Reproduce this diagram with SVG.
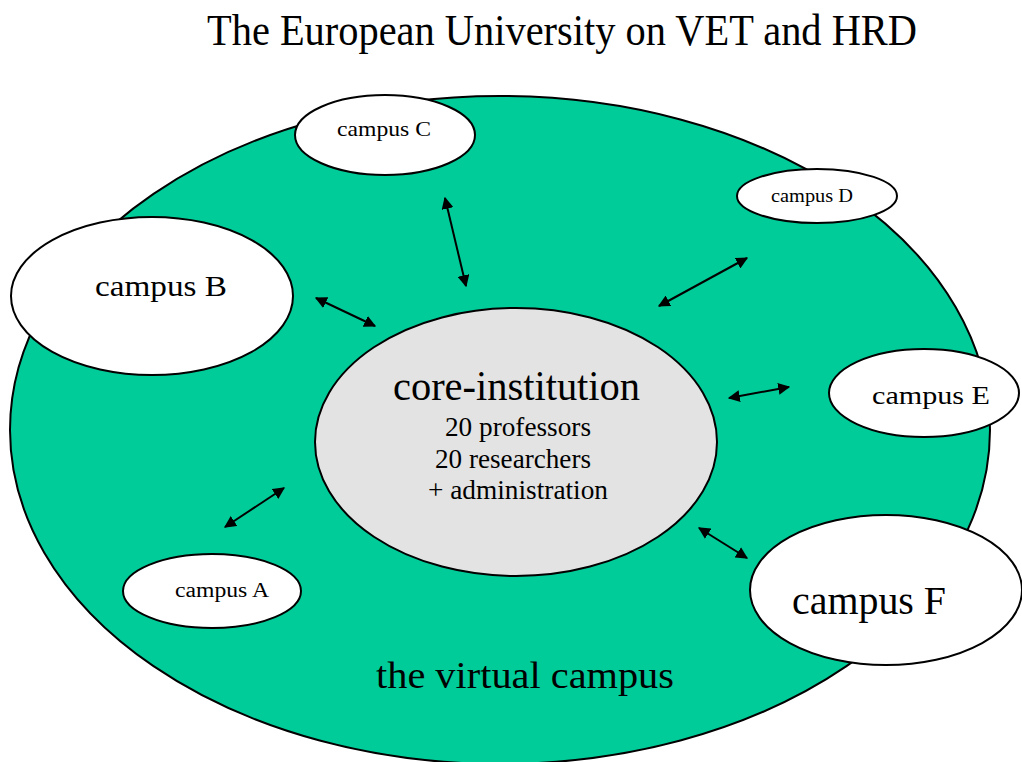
<svg xmlns="http://www.w3.org/2000/svg" width="1022" height="762" viewBox="0 0 1022 762">
<style>
.e{stroke:#000;stroke-width:2}
.w{fill:#fff}
.t{font-family:"Liberation Serif",serif;fill:#000}
.a{stroke:#000;stroke-width:2;fill:none;marker-start:url(#h);marker-end:url(#h)}
</style>
<defs>
<marker id="h" viewBox="0 0 10 10" refX="9" refY="5" markerWidth="6" markerHeight="6" markerUnits="strokeWidth" orient="auto-start-reverse">
<path d="M0,0L10,5L0,10z" fill="#000"/>
</marker>
</defs>
<rect width="1022" height="762" fill="#fff"/>
<text class="t" x="207" y="45" font-size="44" textLength="710" lengthAdjust="spacingAndGlyphs">The European University on VET and HRD</text>
<g id="virtual"><ellipse class="e" cx="500" cy="430" rx="490" ry="334" fill="#00CC99"/>
<text class="t" x="376" y="688" font-size="38" textLength="298" lengthAdjust="spacingAndGlyphs">the virtual campus</text></g>
<g id="core"><ellipse class="e" cx="516" cy="442" rx="201" ry="134" fill="#E3E3E3"/>
<text class="t" x="393" y="400" font-size="42" textLength="247" lengthAdjust="spacingAndGlyphs">core-institution</text>
<text class="t" x="445" y="436" font-size="27" textLength="146" lengthAdjust="spacingAndGlyphs">20 professors</text>
<text class="t" x="435" y="468" font-size="27" textLength="156" lengthAdjust="spacingAndGlyphs">20 researchers</text>
<text class="t" x="428" y="499" font-size="27" textLength="180" lengthAdjust="spacingAndGlyphs">+ administration</text></g>
<g id="campusA"><ellipse class="e w" cx="212" cy="591" rx="89" ry="37"/><text class="t" x="175" y="597" font-size="20" textLength="94" lengthAdjust="spacingAndGlyphs">campus A</text></g>
<g id="campusB"><ellipse class="e w" cx="152" cy="296" rx="141" ry="79"/><text class="t" x="95" y="296" font-size="30" textLength="132" lengthAdjust="spacingAndGlyphs">campus B</text></g>
<g id="campusC"><ellipse class="e w" cx="385" cy="135" rx="90" ry="40"/><text class="t" x="337" y="136" font-size="22" textLength="94" lengthAdjust="spacingAndGlyphs">campus C</text></g>
<g id="campusD"><ellipse class="e w" cx="817" cy="196" rx="80" ry="27"/><text class="t" x="771" y="202" font-size="18" textLength="82" lengthAdjust="spacingAndGlyphs">campus D</text></g>
<g id="campusE"><ellipse class="e w" cx="924" cy="393" rx="95" ry="44"/><text class="t" x="872" y="404" font-size="25" textLength="118" lengthAdjust="spacingAndGlyphs">campus E</text></g>
<g id="campusF"><ellipse class="e w" cx="886" cy="590" rx="136" ry="75"/><text class="t" x="792" y="614" font-size="40" textLength="154" lengthAdjust="spacingAndGlyphs">campus F</text></g>
<g id="connectors">
<line class="a" x1="445" y1="198" x2="466" y2="286"/>
<line class="a" x1="747" y1="258" x2="659" y2="306"/>
<line class="a" x1="316" y1="298" x2="375" y2="326"/>
<line class="a" x1="729" y1="398" x2="789" y2="387"/>
<line class="a" x1="225" y1="527" x2="284" y2="488"/>
<line class="a" x1="699" y1="528" x2="747" y2="558"/>
</g>
</svg>
